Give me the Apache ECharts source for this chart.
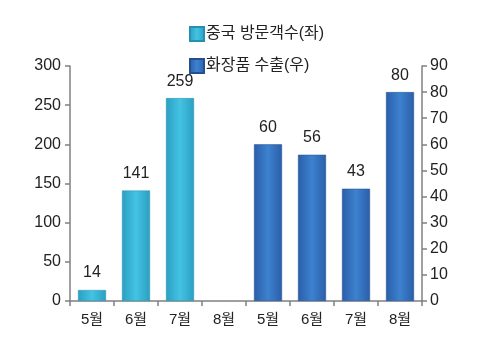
<!DOCTYPE html>
<html>
<head>
<meta charset="UTF-8">
<script src="https://cdn.jsdelivr.net/npm/echarts@6/dist/echarts.min.js"></script>
<style>
  body { margin: 0; background: #fff; }
  #main { width: 485px; height: 353px; }
</style>
</head>
<body>
<div id="main"></div>
<script>
var months = ['5월', '6월', '7월', '8월', '5월', '6월', '7월', '8월'];
var visitors = [14, 141, 259, null, null, null, null, null];   // 중국 방문객수(좌)
var exports = [null, null, null, null, 60, 56, 43, 80];        // 화장품 수출(우)
var leftTicks = [0, 300, 50];
var rightTicks = [0, 90, 10];

var chart = echarts.init(document.getElementById('main'));

function barGrad(edge, mid) {
  return new echarts.graphic.LinearGradient(0, 0, 1, 0, [
    { offset: 0, color: edge },
    { offset: 0.5, color: mid },
    { offset: 1, color: edge }
  ]);
}

var font = 'Arial, "Noto Sans CJK KR", sans-serif';
var axisLine = { show: true, lineStyle: { color: '#808080', width: 1.5 } };
var tick = { show: true, length: 5, lineStyle: { color: '#808080', width: 1.5 } };

chart.setOption({
  animation: false,
  textStyle: { fontFamily: font },
  legend: {
    orient: 'vertical',
    left: 184,
    top: 21,
    itemGap: 16,
    itemWidth: 14,
    itemHeight: 14,
    icon: 'rect',
    textStyle: { fontSize: 16, color: '#222', fontFamily: font, padding: [0, 0, 0, -3] },
    data: ['중국 방문객수(좌)', '화장품 수출(우)']
  },
  grid: { left: 70, right: 63, top: 66, bottom: 52 },
  xAxis: {
    type: 'category',
    data: months,
    axisLine: axisLine,
    axisTick: tick,
    axisLabel: { fontSize: 15, color: '#222', margin: 11 }
  },
  yAxis: [{
    type: 'value',
    min: leftTicks[0], max: leftTicks[1], interval: leftTicks[2],
    axisLine: axisLine,
    axisTick: tick,
    splitLine: { show: false },
    axisLabel: { fontSize: 16, color: '#222', margin: 9 }
  }, {
    type: 'value',
    min: rightTicks[0], max: rightTicks[1], interval: rightTicks[2],
    axisLine: axisLine,
    axisTick: tick,
    splitLine: { show: false },
    axisLabel: { fontSize: 16, color: '#222', margin: 8 }
  }],
  series: [{
    name: '중국 방문객수(좌)',
    type: 'bar',
    yAxisIndex: 0,
    data: visitors,
    barWidth: 28,
    barGap: '-100%',
    itemStyle: { color: barGrad('#2a9fc2', '#44c3e3'), borderColor: '#2690b0', borderWidth: 0.5 },
    label: { show: true, position: 'top', distance: 9, fontSize: 16, color: '#222' }
  }, {
    name: '화장품 수출(우)',
    type: 'bar',
    yAxisIndex: 1,
    data: exports,
    barWidth: 28,
    barGap: '-100%',
    itemStyle: { color: barGrad('#2a5ea8', '#3d82d0'), borderColor: '#24508f', borderWidth: 0.5 },
    label: { show: true, position: 'top', distance: 9, fontSize: 16, color: '#222' }
  }]
});
</script>
</body>
</html>
